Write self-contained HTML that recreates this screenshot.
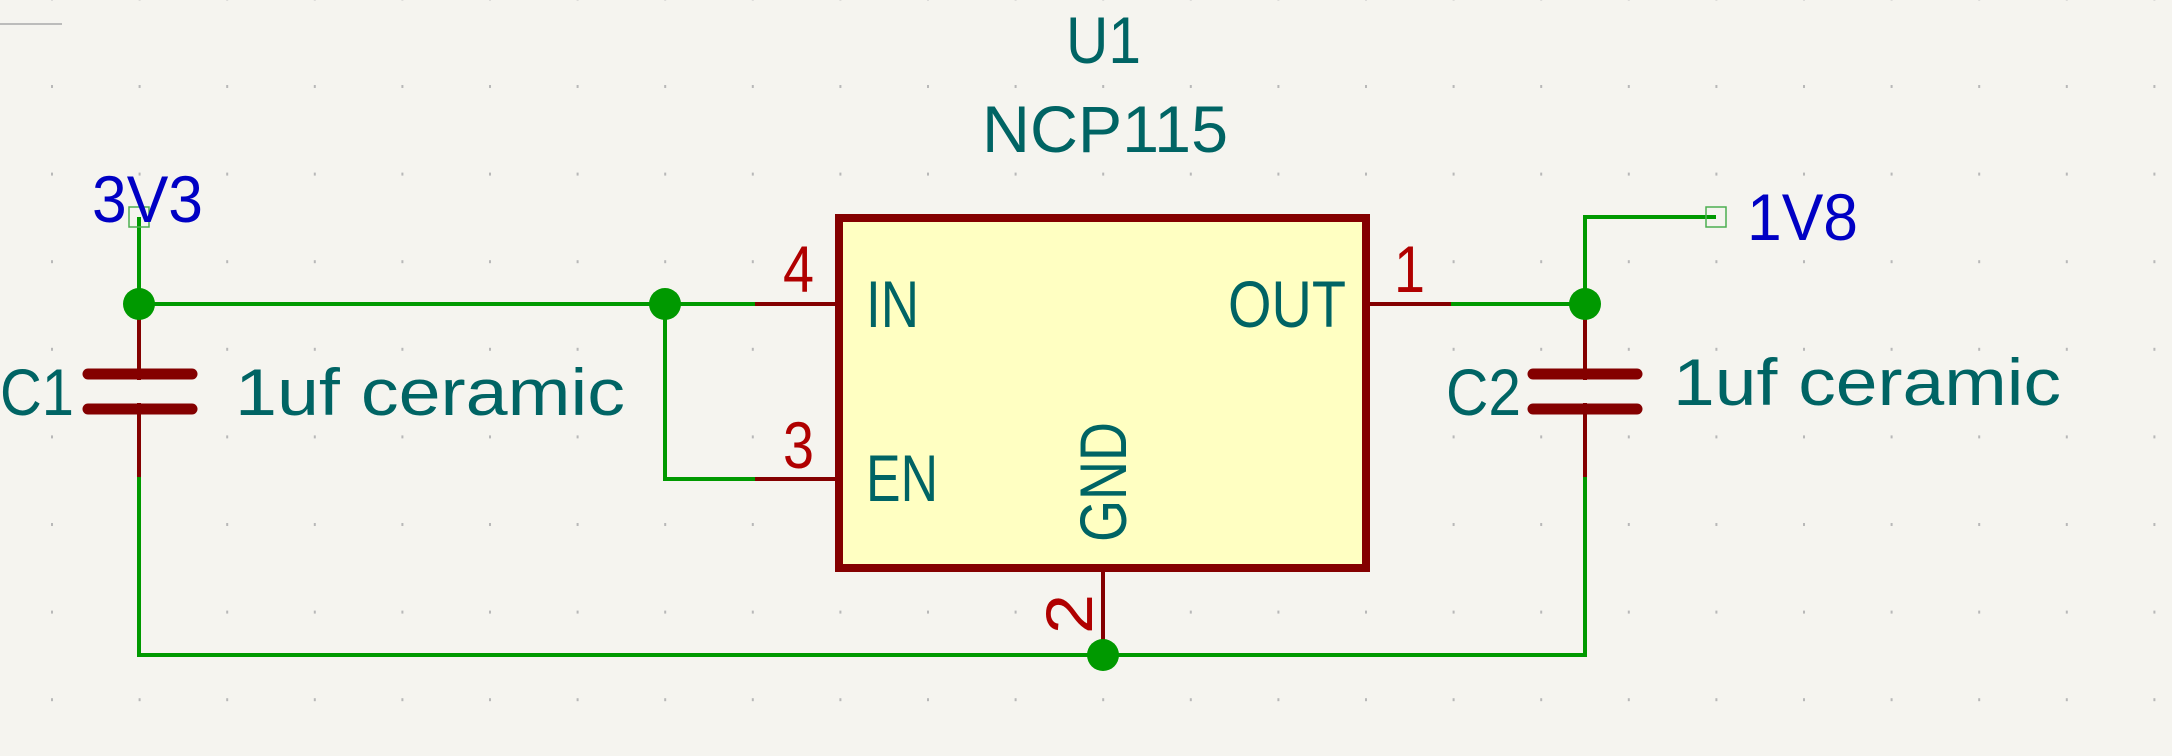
<!DOCTYPE html>
<html><head><meta charset="utf-8"><style>
html,body{margin:0;padding:0;background:#f5f4ef;}
svg{display:block;}
text{font-family:"Liberation Sans",sans-serif;font-size:66px;}
</style></head><body>
<svg width="2172" height="756" viewBox="0 0 2172 756" xmlns="http://www.w3.org/2000/svg">
<rect width="2172" height="756" fill="#f5f4ef"/>
<defs><pattern id="g" x="51" y="85" width="87.6" height="87.6" patternUnits="userSpaceOnUse"><rect width="2" height="3" fill="#b8b8b8"/></pattern></defs>
<rect x="0" y="0" width="2172" height="756" fill="url(#g)"/>
<line x1="0" y1="24" x2="62" y2="24" stroke="#aaa" stroke-width="1.5"/>
<!-- box -->
<rect x="839" y="218" width="527" height="350" fill="#ffffc2" stroke="#840000" stroke-width="8"/>
<g stroke="#840000" stroke-width="4" fill="none">
<line x1="755" y1="304" x2="839" y2="304"/>
<line x1="755" y1="479" x2="839" y2="479"/>
<line x1="1366" y1="304" x2="1451" y2="304"/>
<line x1="1103" y1="568" x2="1103" y2="655"/>
<line x1="139" y1="304" x2="139" y2="477"/>
<line x1="1585" y1="304" x2="1585" y2="477"/>
</g>
<g stroke="#840000" stroke-width="11" stroke-linecap="round">
<line x1="88" y1="374" x2="192" y2="374"/><line x1="88" y1="409" x2="192" y2="409"/>
<line x1="1533" y1="374" x2="1637" y2="374"/><line x1="1533" y1="409" x2="1637" y2="409"/>
</g>
<rect x="84" y="380" width="112" height="23" fill="#f5f4ef"/>
<rect x="1529" y="380" width="112" height="23" fill="#f5f4ef"/>
<g stroke="#009900" stroke-width="4" fill="none">
<polyline points="139,217 139,304 755,304"/>
<polyline points="665,304 665,479 755,479"/>
<polyline points="139,477 139,655 1585,655 1585,477"/>
<polyline points="1451,304 1585,304 1585,217 1716,217"/>
</g>
<rect x="129" y="207" width="20" height="20" fill="none" stroke="#4caf50" stroke-width="1.5"/>
<rect x="1706" y="207" width="20" height="20" fill="none" stroke="#4caf50" stroke-width="1.5"/>
<g fill="#009900">
<ellipse cx="139" cy="304" rx="16" ry="16"/><ellipse cx="665" cy="304" rx="16" ry="16"/>
<ellipse cx="1585" cy="304" rx="16" ry="16"/><ellipse cx="1103" cy="655" rx="16" ry="16"/>
</g>
<g fill="#006464">
<text x="1066" y="63" textLength="75" lengthAdjust="spacingAndGlyphs">U1</text>
<text x="982" y="152" textLength="246" lengthAdjust="spacingAndGlyphs">NCP115</text>
<text x="0" y="415" textLength="74" lengthAdjust="spacingAndGlyphs">C1</text>
<text x="235" y="415" textLength="390" lengthAdjust="spacingAndGlyphs">1uf ceramic</text>
<text x="1446" y="415" textLength="75" lengthAdjust="spacingAndGlyphs">C2</text>
<text x="1673" y="405" textLength="388" lengthAdjust="spacingAndGlyphs">1uf ceramic</text>
<text x="866" y="327" textLength="53" lengthAdjust="spacingAndGlyphs">IN</text>
<text x="866" y="501" textLength="72" lengthAdjust="spacingAndGlyphs">EN</text>
<text x="1228" y="327" textLength="118" lengthAdjust="spacingAndGlyphs">OUT</text>
<text transform="translate(1126,542) rotate(-90)" textLength="120" lengthAdjust="spacingAndGlyphs">GND</text>
</g>
<g fill="#b00000">
<text x="783" y="292" textLength="31" lengthAdjust="spacingAndGlyphs">4</text>
<text x="783" y="468" textLength="31" lengthAdjust="spacingAndGlyphs">3</text>
<text x="1394" y="292" textLength="31" lengthAdjust="spacingAndGlyphs">1</text>
<text transform="translate(1092,634) rotate(-90)" textLength="40" lengthAdjust="spacingAndGlyphs">2</text>
</g>
<g fill="#0000c4">
<text x="92" y="222" textLength="111" lengthAdjust="spacingAndGlyphs">3V3</text>
<text x="1747" y="240" textLength="111" lengthAdjust="spacingAndGlyphs">1V8</text>
</g>
</svg>
</body></html>
